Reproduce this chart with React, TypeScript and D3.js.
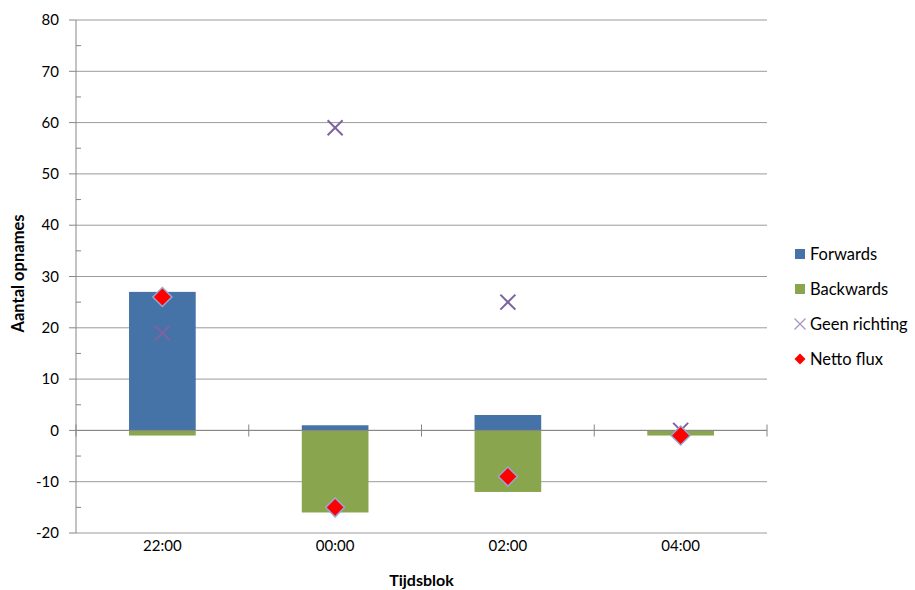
import React from "react";
import * as d3 from "d3";

const categories = ["22:00", "00:00", "02:00", "04:00"];
const forwards = [27, 1, 3, 0];
const backwards = [-1, -16, -12, -1];
const geenRichting = [19, 59, 25, 0];
const nettoFlux = [26, -15, -9, -1];
const yTicks = [-20, -10, 0, 10, 20, 30, 40, 50, 60, 70, 80];
const yMinorTicks = d3.range(-15, 80, 10);

const legendItems = [
  { label: "Forwards", kind: "rect", color: "#4572A7" },
  { label: "Backwards", kind: "rect", color: "#89A54E" },
  { label: "Geen richting", kind: "x", color: "#80699B" },
  { label: "Netto flux", kind: "diamond", color: "#FF0000" },
];

const W = 915;
const H = 590;
const left = 76;
const right = 767;
const top = 20;
const bottom = 533;
const FONT = "Lato, 'Open Sans', sans-serif";

export default function App() {
  const y = d3.scaleLinear().domain([-20, 80]).range([bottom, top]);
  const x = d3.scaleBand().domain(categories).range([left, right]).paddingInner(0).paddingOuter(0);
  const bw = x.bandwidth();
  const barW = bw * 0.386;
  const cx = (c: string) => (x(c) as number) + bw / 2;
  const y0 = Math.round(y(0)) + 0.5;

  const xMark = (px: number, py: number, s: number, color: string, sw: number) => (
    <g stroke={color} strokeWidth={sw} fill="none">
      <line x1={px - s} y1={py - s} x2={px + s} y2={py + s} />
      <line x1={px - s} y1={py + s} x2={px + s} y2={py - s} />
    </g>
  );
  const diamond = (px: number, py: number, r: number, stroke: string | null) => (
    <path
      d={`M${px},${py - r}L${px + r},${py}L${px},${py + r}L${px - r},${py}Z`}
      fill="#FF0000"
      stroke={stroke || "none"}
      strokeWidth={stroke ? 1.5 : 0}
    />
  );

  return (
    <svg
      width={W}
      height={H}
      style={{ position: "absolute", left: 0, top: 0, background: "#fff" }}
      fontFamily={FONT}
    >
      {/* gridlines */}
      {yTicks.map((t) => (
        <line key={"g" + t} x1={left} x2={right} y1={y(t)} y2={y(t)} stroke="#9A9A9A" strokeWidth={1} />
      ))}
      {/* y axis */}
      <line x1={left} x2={left} y1={top} y2={bottom} stroke="#868686" strokeWidth={1} />
      {yTicks.map((t) => (
        <line key={"mt" + t} x1={left - 7} x2={left} y1={y(t)} y2={y(t)} stroke="#868686" />
      ))}
      {yMinorTicks.map((t) => (
        <line key={"mn" + t} x1={left} x2={left + 5} y1={y(t)} y2={y(t)} stroke="#868686" />
      ))}
      {yTicks.map((t) => (
        <text key={"yl" + t} x={left - 17} y={y(t)} dy="0.35em" textAnchor="end" fontSize={15} fill="#000">
          {t}
        </text>
      ))}
      {/* bars */}
      {categories.map((c, i) => (
        <g key={"b" + c}>
          {forwards[i] > 0 && (
            <rect x={cx(c) - barW / 2} width={barW} y={y(forwards[i])} height={y(0) - y(forwards[i])} fill="#4572A7" />
          )}
          {backwards[i] < 0 && (
            <rect x={cx(c) - barW / 2} width={barW} y={y(0)} height={y(backwards[i]) - y(0)} fill="#89A54E" />
          )}
        </g>
      ))}
      {/* zero axis */}
      <line x1={left} x2={right} y1={y(0)} y2={y(0)} stroke="#868686" strokeWidth={1} />
      {d3.range(0, categories.length + 1).map((k) => {
        const px = left + k * bw;
        return <line key={"ct" + k} x1={px} x2={px} y1={y0 - 6} y2={y0 + 6} stroke="#868686" />;
      })}
      {/* markers */}
      {categories.map((c, i) => (
        <g key={"m" + c}>
          {xMark(cx(c), y(geenRichting[i]), 7.5, "#7B64A0", 2)}
        </g>
      ))}
      {categories.map((c, i) => (
        <g key={"d" + c}>{diamond(cx(c), y(nettoFlux[i]), 9.5, "#95A8CF")}</g>
      ))}
      {/* x labels */}
      {categories.map((c) => (
        <text key={"xl" + c} x={cx(c)} y={551} textAnchor="middle" fontSize={15} fill="#000">
          {c}
        </text>
      ))}
      <text x={(left + right) / 2} y={586} textAnchor="middle" fontSize={16} fontWeight="bold" fill="#000">
        Tijdsblok
      </text>
      <text
        transform={`translate(24,${(top + bottom) / 2 - 3}) rotate(-90)`}
        textAnchor="middle"
        fontSize={16.5}
        fontWeight="bold"
        fill="#000"
      >
        Aantal opnames
      </text>
      {/* legend */}
      {legendItems.map((it, i) => {
        const ly = 254 + i * 35;
        const mx = 800;
        return (
          <g key={"lg" + it.label}>
            {it.kind === "rect" && <rect x={mx - 5} y={ly - 5} width={10} height={10} fill={it.color} />}
            {it.kind === "x" && xMark(mx, ly, 5.5, "#A597C4", 1.2)}
            {it.kind === "diamond" && diamond(mx, ly, 5.5, null)}
            <text x={810} y={ly} dy="0.35em" fontSize={16.5} fill="#000">
              {it.label}
            </text>
          </g>
        );
      })}
    </svg>
  );
}
